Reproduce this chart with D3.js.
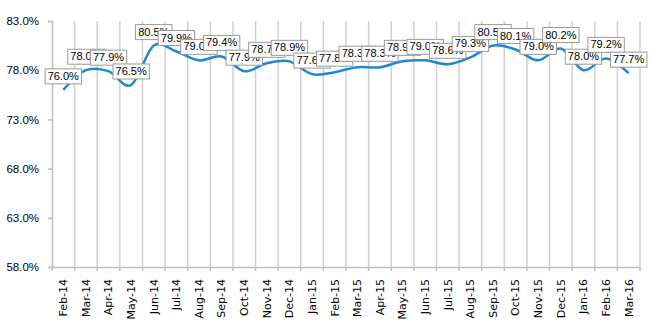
<!DOCTYPE html>
<html><head><meta charset="utf-8">
<script src="https://cdn.jsdelivr.net/npm/d3@7"></script>
<style>body{margin:0;background:#fff}svg{display:block}</style>
</head><body><svg id="c" width="650" height="327"></svg>
<script>
const categories = ["Feb-14","Mar-14","Apr-14","May-14","Jun-14","Jul-14","Aug-14","Sep-14","Oct-14","Nov-14","Dec-14","Jan-15","Feb-15","Mar-15","Apr-15","May-15","Jun-15","Jul-15","Aug-15","Sep-15","Oct-15","Nov-15","Dec-15","Jan-16","Feb-16","Mar-16"];
const values = [76.0,78.0,77.9,76.5,80.5,79.9,79.0,79.4,77.9,78.7,78.9,77.6,77.8,78.3,78.3,78.9,79.0,78.6,79.3,80.5,80.1,79.0,80.2,78.0,79.2,77.7];
const yTicks = [58,63,68,73,78,83];

const svg = d3.select("#c");
const m = {left:52};
const x = d3.scaleBand().domain(categories).range([m.left, 640]).paddingInner(0).paddingOuter(0);
const y = d3.scaleLinear().domain([58,83]).range([267, 21]);
const font = "Liberation Sans, Arial, sans-serif";
const font2 = "DejaVu Sans, Verdana, sans-serif";

// vertical gridlines at category boundaries
const bounds = categories.map(c => x(c) + x.bandwidth());
svg.append("g").selectAll("line").data(bounds).join("line")
  .attr("x1", d=>d).attr("x2", d=>d).attr("y1", y(83)).attr("y2", y(58))
  .attr("stroke", "#d0d0d0").attr("stroke-width", 1.5);

// y axis
const ya = svg.append("g").attr("transform", `translate(${m.left},0)`)
  .call(d3.axisLeft(y).tickValues(yTicks).tickSize(4).tickFormat(d => d.toFixed(1) + "%"));
ya.select(".domain").attr("stroke", "#bfbfbf").attr("stroke-width", 1.5);
ya.selectAll(".tick line").attr("stroke", "#bfbfbf").attr("stroke-width", 1.5);
ya.selectAll("text").attr("font-family", font).attr("font-size", 11.5).attr("fill", "#000").attr("x", -13);

// x axis
const xa = svg.append("g").attr("transform", `translate(0,${y(58)})`)
  .call(d3.axisBottom(x).tickSize(0));
xa.select(".domain").attr("stroke", "#bfbfbf").attr("stroke-width", 1.5);
xa.selectAll(".tick text").attr("font-family", font2).attr("font-size", 11).attr("fill", "#000")
  .attr("transform", "rotate(-90)").attr("text-anchor", "end").attr("dy", "0.35em").attr("y", 0).attr("x", -12);
svg.append("g").selectAll("line").data([m.left].concat(bounds)).join("line")
  .attr("x1", d=>d).attr("x2", d=>d).attr("y1", y(58)).attr("y2", y(58)+4)
  .attr("stroke", "#bfbfbf").attr("stroke-width", 1.5);

// line
const pts = values.map((v,i) => [x(categories[i]) + x.bandwidth()/2, y(v)]);
svg.append("path").datum(pts)
  .attr("d", d3.line().curve(d3.curveCatmullRom.alpha(0)))
  .attr("fill", "none").attr("stroke", "#1f88d6").attr("stroke-width", 2.5);

// data labels
const lg = svg.append("g");
values.forEach((v,i) => {
  const [px, py] = pts[i];
  const g = lg.append("g");
  const t = g.append("text").text(v.toFixed(1) + "%")
    .attr("font-family", font).attr("font-size", 11).attr("fill", "#000")
    .attr("text-anchor", "middle").attr("x", px).attr("y", py - 10);
  const bb = t.node().getBBox();
  g.insert("rect", "text").attr("x", px - bb.width/2 - 2.5).attr("y", py - 21)
    .attr("width", bb.width + 5).attr("height", 15)
    .attr("fill", "#fff").attr("stroke", "#9a9a9a").attr("stroke-width", 1);
});
</script></body></html>
